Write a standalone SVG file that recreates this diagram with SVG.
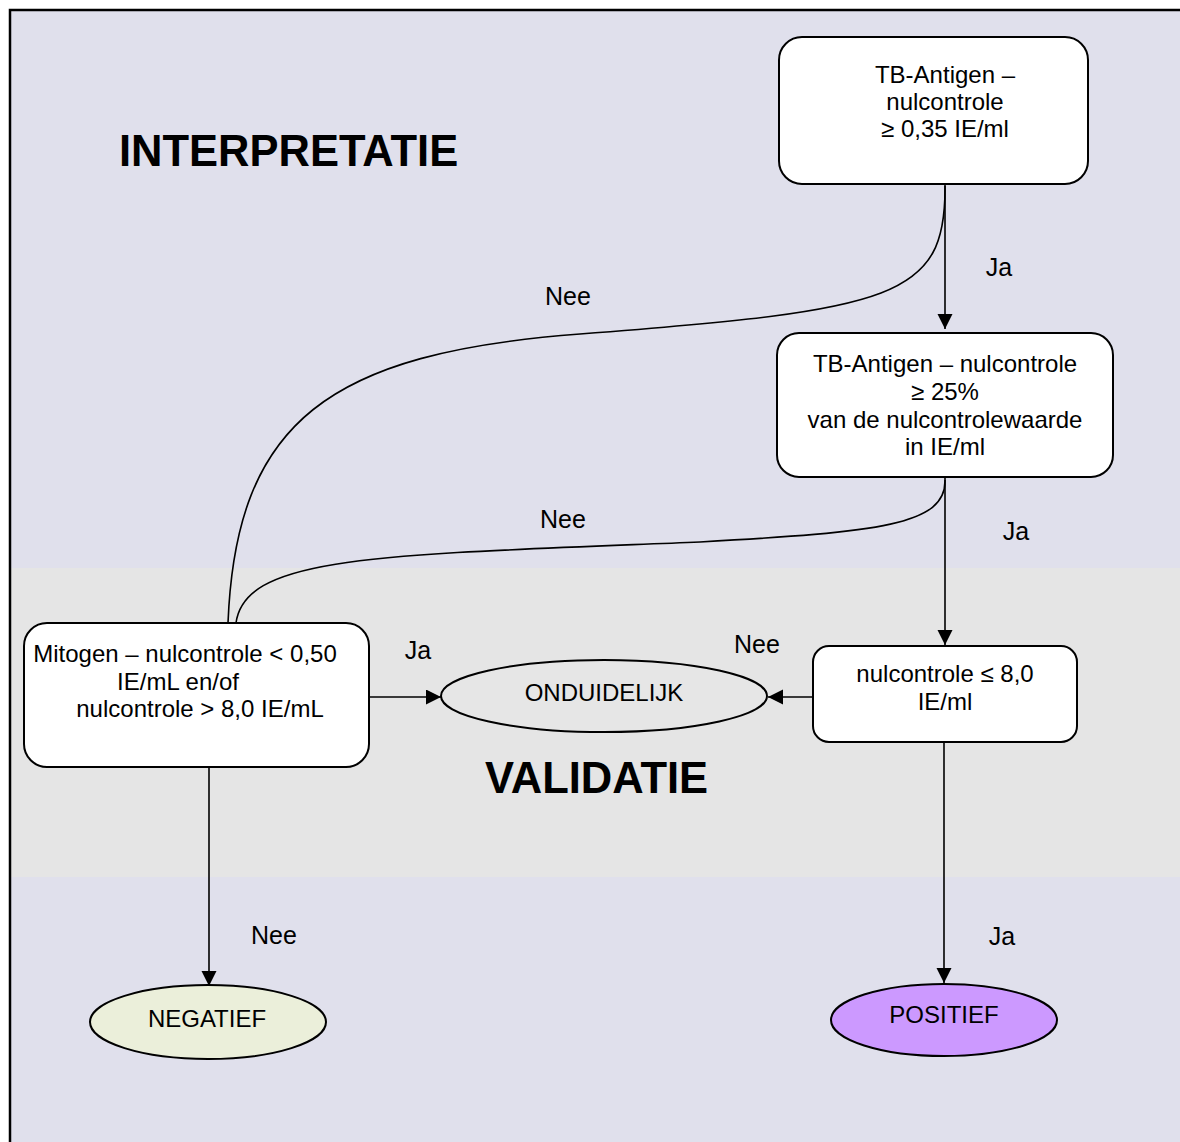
<svg xmlns="http://www.w3.org/2000/svg" width="1180" height="1142" viewBox="0 0 1180 1142">
<style>
  text { font-family: "Liberation Sans", Arial, sans-serif; fill: #000; }
  .box { fill: #fff; stroke: #000; stroke-width: 2; }
  .t { font-size: 24px; text-anchor: middle; }
  .e { font-size: 24px; text-anchor: middle; }
  .lbl { font-size: 25px; text-anchor: middle; }
  .head { font-size: 43.5px; font-weight: bold; }
  .conn { fill: none; stroke: #000; stroke-width: 1.6; }
  .ell { stroke: #000; stroke-width: 2; }
</style>
<defs>
  <marker id="arr" markerUnits="userSpaceOnUse" markerWidth="17" markerHeight="17" refX="15" refY="7.5" orient="auto">
    <path d="M0,0 L15,7.5 L0,15 z" fill="#000"/>
  </marker>
</defs>

<g id="background">
  <rect x="0" y="0" width="1180" height="1142" fill="#fff"/>
  <rect x="10" y="10" width="1180" height="1142" fill="#E0E0EC"/>
  <rect x="10" y="568" width="1180" height="309" fill="#E5E5E5"/>
  <path d="M10,1142 L10,10 L1180,10" fill="none" stroke="#000" stroke-width="2.5"/>
  <text class="head" x="119" y="166">INTERPRETATIE</text>
  <text class="head" x="485" y="793">VALIDATIE</text>
</g>

<g id="connectors">
  <line class="conn" x1="945" y1="184" x2="945" y2="329" marker-end="url(#arr)"/>
  <path class="conn" d="M945,186 C946,298 895,310 580,334 C330,353 236,420 228,623"/>
  <line class="conn" x1="945" y1="478" x2="945" y2="645" marker-end="url(#arr)"/>
  <path class="conn" d="M945,480 C946,525 880,532 700,542 C380,555 245,555 236,623"/>
  <line class="conn" x1="813" y1="697" x2="768" y2="697" marker-end="url(#arr)"/>
  <line class="conn" x1="369" y1="697" x2="441" y2="697" marker-end="url(#arr)"/>
  <line class="conn" x1="209" y1="767" x2="209" y2="986" marker-end="url(#arr)"/>
  <line class="conn" x1="944" y1="742" x2="944" y2="983" marker-end="url(#arr)"/>
  <text class="lbl" x="999" y="276">Ja</text>
  <text class="lbl" x="568" y="305">Nee</text>
  <text class="lbl" x="563" y="528">Nee</text>
  <text class="lbl" x="1016" y="540">Ja</text>
  <text class="lbl" x="418" y="659">Ja</text>
  <text class="lbl" x="757" y="653">Nee</text>
  <text class="lbl" x="274" y="944">Nee</text>
  <text class="lbl" x="1002" y="945">Ja</text>
</g>

<g id="node-tb1">
  <rect class="box" x="779" y="37" width="309" height="147" rx="23"/>
  <text class="t" x="945" y="83">TB-Antigen –</text>
  <text class="t" x="945" y="110">nulcontrole</text>
  <text class="t" x="945" y="137">≥ 0,35 IE/ml</text>
</g>

<g id="node-tb2">
  <rect class="box" x="777" y="333" width="336" height="144" rx="22"/>
  <text class="t" x="945" y="372">TB-Antigen – nulcontrole</text>
  <text class="t" x="945" y="399.5">≥ 25%</text>
  <text class="t" x="945" y="427.5">van de nulcontrolewaarde</text>
  <text class="t" x="945" y="455">in IE/ml</text>
</g>

<g id="node-nul">
  <rect class="box" x="813" y="646" width="264" height="96" rx="16"/>
  <text class="t" x="945" y="682">nulcontrole ≤ 8,0</text>
  <text class="t" x="945" y="710">IE/ml</text>
</g>

<g id="node-mitogen">
  <rect class="box" x="24" y="623" width="345" height="144" rx="23"/>
  <text class="t" x="185" y="662">Mitogen – nulcontrole &lt; 0,50</text>
  <text class="t" x="178" y="689.5">IE/mL en/of</text>
  <text class="t" x="200" y="717">nulcontrole &gt; 8,0 IE/mL</text>
</g>

<g id="node-onduidelijk">
  <ellipse class="ell" cx="604" cy="696" rx="163" ry="36" fill="#E6E6E6"/>
  <text class="e" x="604" y="701">ONDUIDELIJK</text>
</g>

<g id="node-negatief">
  <ellipse class="ell" cx="208" cy="1022" rx="118" ry="37" fill="#EBEFDA"/>
  <text class="e" x="207" y="1027">NEGATIEF</text>
</g>

<g id="node-positief">
  <ellipse class="ell" cx="944" cy="1020" rx="113" ry="36" fill="#CC99FF"/>
  <text class="e" x="944" y="1023">POSITIEF</text>
</g>
</svg>
